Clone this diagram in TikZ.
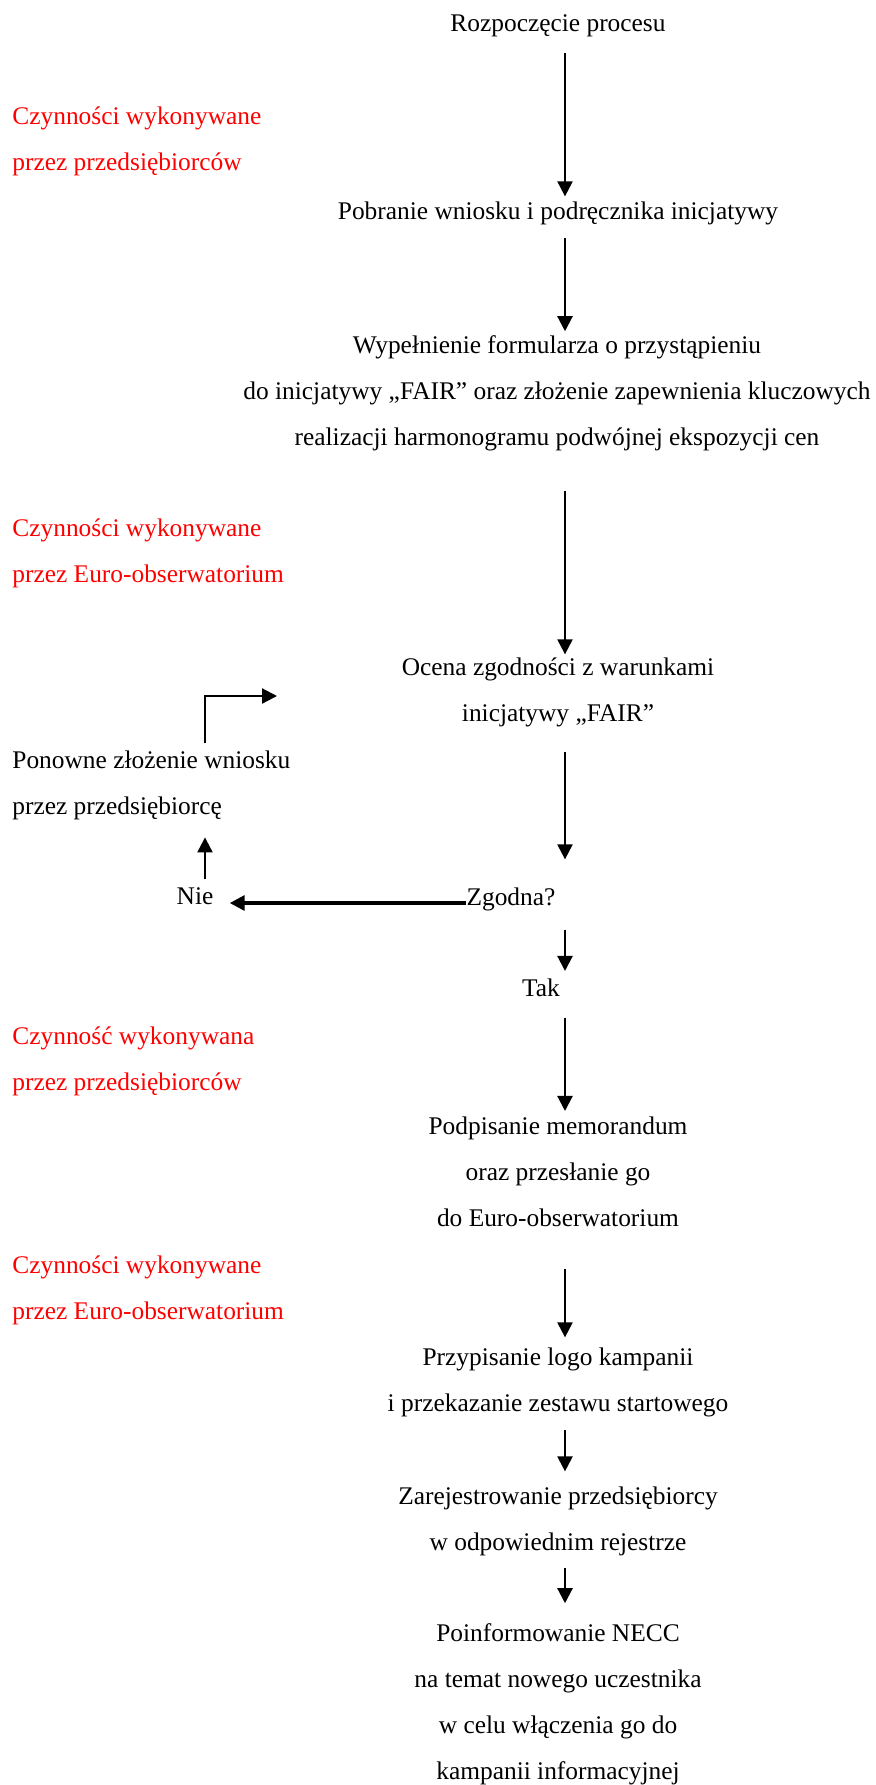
\documentclass[tikz,border=0pt]{standalone}
\usepackage{fontspec}
\setmainfont{Liberation Serif}
\usetikzlibrary{arrows.meta}

\begin{document}
\begin{tikzpicture}[inner sep=0pt,
  every node/.style={font=\fontsize{12.7}{23}\selectfont},
  krok/.style={align=center},
  rola/.style={anchor=west,align=left,text=red},
  strz/.style={line width=1.1pt,-{Triangle[length=7.5pt,width=7.5pt]}}]
\def\u{0.5pt}
\useasboundingbox (0,0) rectangle (875*\u,-1785*\u);
\coordinate (ax) at (565*\u,0);
\coordinate (lx) at (205*\u,0);
\coordinate (powrot) at (277*\u,-696*\u);

\node[krok] (start) at (558*\u,-26*\u) {Rozpoczęcie procesu};
\node[krok] (pobranie) at (558*\u,-213*\u) {Pobranie wniosku i podręcznika inicjatywy};
\node[krok] (formularz) at (557*\u,-393*\u) {Wypełnienie formularza o przystąpieniu\\do inicjatywy „FAIR” oraz złożenie zapewnienia kluczowych\\realizacji harmonogramu podwójnej ekspozycji cen};
\node[krok] (ocena) at (558*\u,-692*\u) {Ocena zgodności z warunkami\\inicjatywy „FAIR”};
\node (zgodna) at (511*\u,-899*\u) {Zgodna?};
\node (tak) at (541*\u,-988*\u) {Tak};
\node[krok] (memo) at (558*\u,-1172*\u) {Podpisanie memorandum\\oraz przesłanie go\\do Euro-obserwatorium};
\node[krok] (logo) at (558*\u,-1382*\u) {Przypisanie logo kampanii\\i przekazanie zestawu startowego};
\node[krok] (rejestr) at (558*\u,-1521*\u) {Zarejestrowanie przedsiębiorcy\\w odpowiednim rejestrze};
\node[krok] (necc) at (558*\u,-1704*\u) {Poinformowanie NECC\\na temat nowego uczestnika\\w celu włączenia go do\\kampanii informacyjnej};

\node[rola] (rola1) at (12*\u,-141*\u) {Czynności wykonywane\\przez przedsiębiorców};
\node[rola] (rola2) at (12*\u,-553*\u) {Czynności wykonywane\\przez Euro-obserwatorium};
\node[rola] (rola3) at (12*\u,-1061*\u) {Czynność wykonywana\\przez przedsiębiorców};
\node[rola] (rola4) at (12*\u,-1290*\u) {Czynności wykonywane\\przez Euro-obserwatorium};

\node[anchor=west,align=left] (ponowne) at (12*\u,-785*\u) {Ponowne złożenie wniosku\\przez przedsiębiorcę};
\node (nie) at (195*\u,-896*\u) {Nie};

\draw[strz,shorten <=7.75pt,shorten >=2.35pt] (start.south -| ax) -- (pobranie.north -| ax);
\draw[strz,shorten <=6.75pt,shorten >=1.85pt] (pobranie.south -| ax) -- (formularz.north -| ax);
\draw[strz,shorten <=19.75pt,shorten >=1.35pt] (formularz.south -| ax) -- (ocena.north -| ax);
\draw[strz,shorten <=12.75pt,shorten >=13.85pt] (ocena.south -| ax) -- (zgodna.north -| ax);
\draw[strz,shorten <=9.75pt,shorten >=3.85pt] (zgodna.south -| ax) -- (tak.north -| ax);
\draw[strz,shorten <=10.5pt,shorten >=2.85pt] (tak.south -| ax) -- (memo.north -| ax);
\draw[strz,shorten <=21pt,shorten >=4.85pt] (memo.south -| ax) -- (logo.north -| ax);
\draw[strz,shorten <=6.75pt,shorten >=7.35pt] (logo.south -| ax) -- (rejestr.north -| ax);
\draw[strz,shorten <=6.25pt,shorten >=9.85pt] (rejestr.south -| ax) -- (necc.north -| ax);

% petla dla odrzuconego wniosku
\draw[strz,line width=1.6pt,shorten >=8pt] ([yshift=-2pt]zgodna.west) -- ([yshift=-2pt]zgodna.west -| nie.east);
\draw[strz,shorten <=3.85pt,shorten >=8.75pt] (nie.north -| lx) -- (ponowne.south -| lx);
\draw[strz,shorten <=3.35pt] (ponowne.north -| lx) |- (powrot);
\end{tikzpicture}
\end{document}
